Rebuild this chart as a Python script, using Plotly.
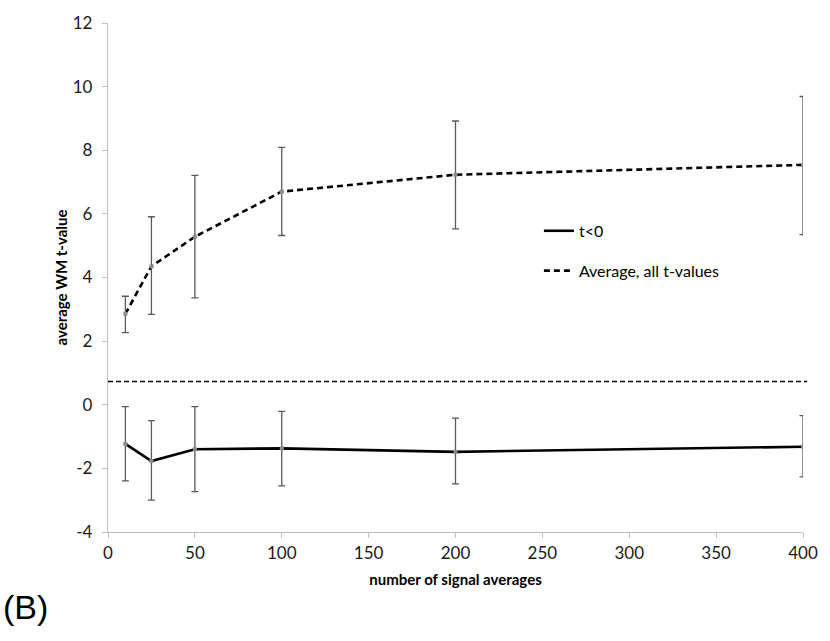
import plotly.graph_objects as go

# Data
signal_averages = [10, 25, 50, 100, 200, 400]

avg_all = [2.86, 4.35, 5.28, 6.70, 7.23, 7.54]
avg_all_hi = [3.41, 5.91, 7.21, 8.09, 8.92, 9.69]
avg_all_lo = [2.27, 2.84, 3.36, 5.32, 5.53, 5.35]

neg_t = [-1.23, -1.77, -1.40, -1.37, -1.48, -1.32]
neg_t_hi = [-0.06, -0.50, -0.06, -0.21, -0.42, -0.34]
neg_t_lo = [-2.39, -3.00, -2.73, -2.55, -2.49, -2.27]

threshold = 0.73

x_ticks = [0, 50, 100, 150, 200, 250, 300, 350, 400]
y_ticks = [-4, -2, 0, 2, 4, 6, 8, 10, 12]
y_tick_labels = ["-4", "-2", "0", "2", "4", "6", "8", "10", "12"]

FONT = "Lato"
ERR_COLOR = "#5a5a5a"

fig = go.Figure()


def add_series(name, y, hi, lo, dash, group):
    fig.add_trace(go.Scatter(
        x=signal_averages, y=y, mode="lines", name=name,
        legendgroup=group,
        line=dict(color="black", width=2.6, dash=dash),
    ))
    fig.add_trace(go.Scatter(
        x=signal_averages, y=y, mode="markers", showlegend=False,
        legendgroup=group,
        marker=dict(symbol="square", size=4, color="#8c8c8c"),
        error_y=dict(type="data", symmetric=False,
                     array=[h - v for h, v in zip(hi, y)],
                     arrayminus=[v - l for v, l in zip(y, lo)],
                     color=ERR_COLOR, thickness=1.3, width=3.5),
    ))


add_series("t<0", neg_t, neg_t_hi, neg_t_lo, "solid", "g1")
add_series("Average, all t-values", avg_all, avg_all_hi, avg_all_lo, "6px,4px", "g2")

fig.add_shape(type="line", xref="paper", yref="y", x0=0, x1=1.006,
              y0=threshold, y1=threshold,
              line=dict(color="black", width=1.4, dash="5px,3px"))

fig.add_annotation(text="(B)", xref="paper", yref="paper", x=0, y=0,
                   xanchor="left", yanchor="middle",
                   xshift=-107, yshift=-75, showarrow=False,
                   font=dict(family="Liberation Sans", size=34, color="black"))

axis_common = dict(
    showgrid=False, zeroline=False, showline=True,
    linecolor="#bfbfbf", linewidth=1.3,
    ticks="outside", tickcolor="#bfbfbf", ticklen=5, tickwidth=1.3,
    tickfont=dict(family=FONT, size=17, color="#1a1a1a"),
)

fig.update_xaxes(range=[0, 400], tickvals=x_ticks,
                 title=dict(text="<b>number of signal averages</b>",
                            font=dict(family=FONT, size=15, color="black"),
                            standoff=12),
                 **axis_common)
fig.update_yaxes(range=[-4, 12], tickvals=y_ticks, ticktext=y_tick_labels,
                 title=dict(text="<b>average WM t-value</b>",
                            font=dict(family=FONT, size=15, color="black"),
                            standoff=1),
                 ticklabelstandoff=6,
                 **axis_common)

fig.update_layout(
    width=830, height=641,
    margin=dict(l=108, r=21, t=19, b=109),
    paper_bgcolor="white", plot_bgcolor="white",
    showlegend=True,
    legend=dict(x=0.62, y=0.625, xanchor="left", yanchor="top",
                bgcolor="rgba(0,0,0,0)", traceorder="grouped",
                tracegroupgap=16,
                font=dict(family=FONT, size=16, color="black")),
)

fig.write_html("out.html")
